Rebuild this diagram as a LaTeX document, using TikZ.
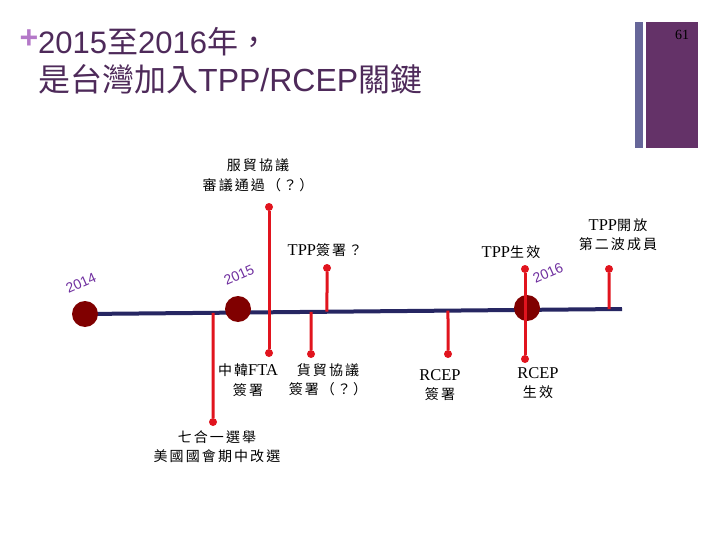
\documentclass[tikz,border=0pt]{standalone}
\usepackage{fontspec}
\setmainfont{Liberation Serif}
\newfontfamily\cjk[LetterSpace=15]{Noto Sans CJK TC}
\newfontfamily\cjkt{Noto Sans CJK TC}
\newfontfamily\lsans{Liberation Sans}
\newfontfamily\lser{Liberation Serif}
\newcommand\latn[1]{{\lser\fontsize{16.5}{19.5}\selectfont #1}}
\usetikzlibrary{calc}
\definecolor{tred}{RGB}{225,20,30}
\definecolor{tnavy}{RGB}{38,38,98}
\definecolor{tdark}{RGB}{128,0,0}
\definecolor{tpurp}{RGB}{112,48,160}
\definecolor{ttitle}{RGB}{78,42,90}
\definecolor{tplus}{RGB}{180,120,200}
\definecolor{tbarA}{RGB}{102,102,153}
\definecolor{tbarB}{RGB}{100,50,104}
\begin{document}
\begin{tikzpicture}[x=1pt,y=-1pt,
  redln/.style={draw=tred, line width=3pt},
  dotf/.style={circle, fill=tred, inner sep=0pt, minimum size=8pt},
  yearc/.style={circle, fill=tdark, inner sep=0pt, minimum size=26pt},
  yr/.style={font=\lsans\fontsize{14}{14}\selectfont, text=tpurp, rotate=24, inner sep=0pt},
  lab/.style={font=\cjk\fontsize{14}{19.5}\selectfont, align=center, inner sep=0pt},
  ttl/.style={anchor=base west, inner sep=0pt, text=ttitle}]
\useasboundingbox (0,0) rectangle (720,540);
\fill[white] (0,0) rectangle (720,540);
% side bars
\fill[tbarA] (635,22) rectangle (643,148);
\fill[tbarB] (646,22) rectangle (698,148);
\node[font=\lser\fontsize{14}{14}\selectfont, inner sep=0pt] (pg) at (682,35) {61};
% title
\node[text=tplus, font=\lsans\bfseries\fontsize{32}{32}\selectfont, inner sep=0pt] (plus) at (29,39) {+};
\node[ttl, font=\cjkt\fontsize{31}{31}\selectfont] (t1) at (38,54) {{\lsans 2015}至{\lsans 2016}年，};
\node[ttl, font=\cjkt\fontsize{32}{32}\selectfont] (t2) at (38,92) {是台灣加入{\lsans TPP/RCEP}關鍵};
% timeline
\coordinate (tA) at (85,314);
\coordinate (tB) at (622,309);
\draw[tnavy, line width=4pt] (tA) -- (tB);
\node[yearc] (y14) at (85,314) {};
\node[yearc] (y15) at (238,309) {};
\node[yearc] (y16) at (527,308) {};
\node[yr] (l14) at (81,283) {2014};
\node[yr] (l15) at (239,275) {2015};
\node[yr] (l16) at (548,273) {2016};
% points on the timeline
\coordinate (p213) at ($(tA)!{(213-85)/537}!(tB)$);
\coordinate (p310) at ($(tA)!{(311-85)/537}!(tB)$);
\coordinate (p326) at ($(tA)!{(327-85)/537}!(tB)$);
\coordinate (p448) at ($(tA)!{(448-85)/537}!(tB)$);
\coordinate (p609) at ($(tA)!{(609-85)/537}!(tB)$);
% dots
\node[dotf] (dFu) at (269,207) {};
\node[dotf] (dFTA) at (269,353) {};
\node[dotf] (dSel) at (213,422) {};
\node[dotf] (dGoods) at (311,354) {};
\node[dotf] (dTPPs) at (327,268) {};
\node[dotf] (dRCs) at (448,354) {};
\node[dotf] (dTPPe) at (525,269) {};
\node[dotf] (dRCe) at (525,359) {};
\node[dotf] (dOpen) at (609,269) {};
% red connectors
\draw[redln] (dFu) -- (dFTA);
\draw[redln] (p213) -- (dSel);
\draw[redln] (p310) -- (dGoods);
\draw[redln] (dTPPs) -- (p326);
\draw[redln] (p448) -- (dRCs);
\draw[redln] (dTPPe) -- (dRCe);
\draw[redln] (dOpen) -- (p609);
% labels
\node[lab] (lFu) at (258,175.5) {服貿協議\\審議通過（？）};
\node[lab] (lTPPs) at (325,250) {\latn{TPP}簽署？};
\node[lab] (lTPPe) at (511,252) {\latn{TPP}生效};
\node[lab] (lOpen) at (618,234.5) {\latn{TPP}開放\\第二波成員};
\node[lab] (lFTA) at (248,380) {中韓\latn{FTA}\\簽署};
\node[lab] (lGoods) at (328,380) {貨貿協議\\簽署（？）};
\node[lab] (lRCs) at (440,385) {\latn{RCEP}\\簽署};
\node[lab] (lRCe) at (538,383) {\latn{RCEP}\\生效};
\node[lab] (lSel) at (217,446.5) {七合一選舉\\美國國會期中改選};
\end{tikzpicture}
\end{document}
